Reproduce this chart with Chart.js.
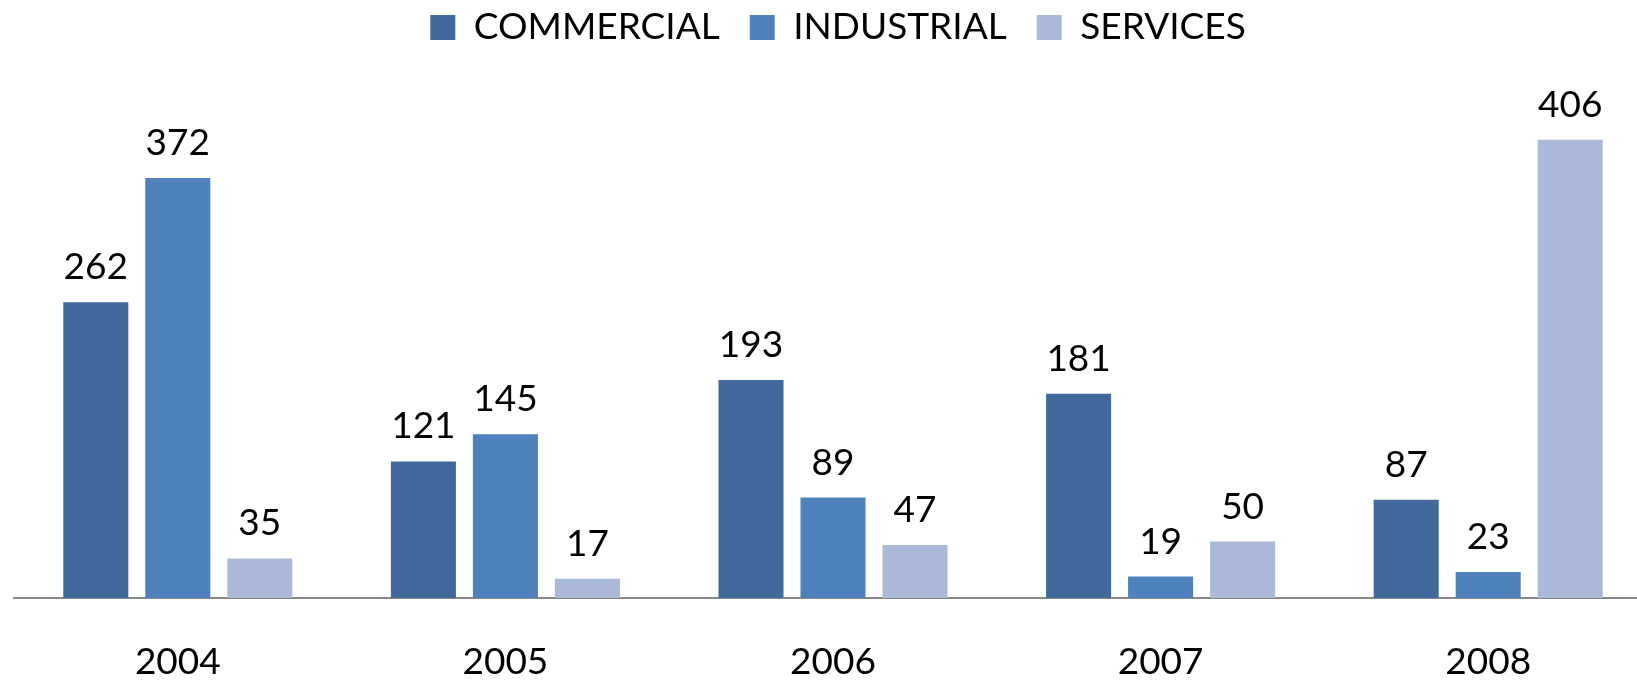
<!DOCTYPE html>
<html>
<head>
<meta charset="utf-8">
<script src="https://cdn.jsdelivr.net/npm/chart.js@4/dist/chart.umd.min.js"></script>
<style>
	html, body { margin: 0; padding: 0; background: #ffffff; overflow: hidden; }
	#wrap { width: 1676px; height: 681px; }
</style>
</head>
<body>
<div id="wrap"><canvas id="chart" width="1676" height="681"></canvas></div>
<script>
const categories = [ '2004', '2005', '2006', '2007', '2008' ];
const commercial = [ 262, 121, 193, 181, 87 ];
const industrial = [ 372, 145, 89, 19, 23 ];
const services = [ 35, 17, 47, 50, 406 ];

const FONT = 'Lato, "Open Sans", sans-serif';
const LEGEND_PAD = 30;

// value labels above each bar
const barLabels = {
	id: 'barLabels',
	afterDatasetsDraw( chart ) {
		const ctx = chart.ctx;
		ctx.save();
		ctx.font = '37px ' + FONT;
		ctx.fillStyle = '#000000';
		ctx.textAlign = 'center';
		ctx.textBaseline = 'alphabetic';
		chart.data.datasets.forEach( ( ds, i ) => {
			chart.getDatasetMeta( i ).data.forEach( ( bar, j ) => {
				ctx.fillText( String( ds.data[ j ] ), bar.x, bar.y - 23 );
			} );
		} );
		ctx.restore();
	},
};

// fixed legend height so the plot top lands at ~90px,
// and pull the legend row up since the item padding is wide
const legendHeight = {
	id: 'legendHeight',
	beforeInit( chart ) {
		const fit = chart.legend.fit;
		chart.legend.fit = function () {
			fit.call( this );
			this.height = 90;
		};
	},
	afterLayout( chart ) {
		chart.legend.top = 9 - LEGEND_PAD;
		chart.legend.left = 16;
		chart.legend.right += 8;
	},
};

new Chart( document.getElementById( 'chart' ), {
	type: 'bar',
	data: {
		labels: categories,
		datasets: [
			{ label: 'COMMERCIAL', data: commercial, backgroundColor: '#41699b' },
			{ label: 'INDUSTRIAL', data: industrial, backgroundColor: '#4f81bd' },
			{ label: 'SERVICES', data: services, backgroundColor: '#aab9d8' },
		],
	},
	options: {
		responsive: false,
		animation: false,
		categoryPercentage: 0.751,
		barPercentage: 0.793,
		layout: {
			padding: { left: 14, right: 24, top: 0, bottom: 0 },
		},
		plugins: {
			tooltip: { enabled: false },
			legend: {
				position: 'top',
				labels: {
					boxWidth: 25,
					boxHeight: 25,
					padding: LEGEND_PAD,
					color: '#000000',
					font: { family: FONT, size: 37 },
				},
			},
		},
		scales: {
			x: {
				grid: { display: false, drawTicks: false },
				border: { display: true, color: '#888888', width: 2 },
				ticks: {
					color: '#000000',
					padding: 46,
					font: { family: FONT, size: 37, lineHeight: 1 },
				},
				afterFit( scale ) {
					scale.height = 83;
				},
			},
			y: {
				display: false,
				min: 0,
				max: 450,
			},
		},
	},
	plugins: [ barLabels, legendHeight ],
} );
</script>
</body>
</html>
